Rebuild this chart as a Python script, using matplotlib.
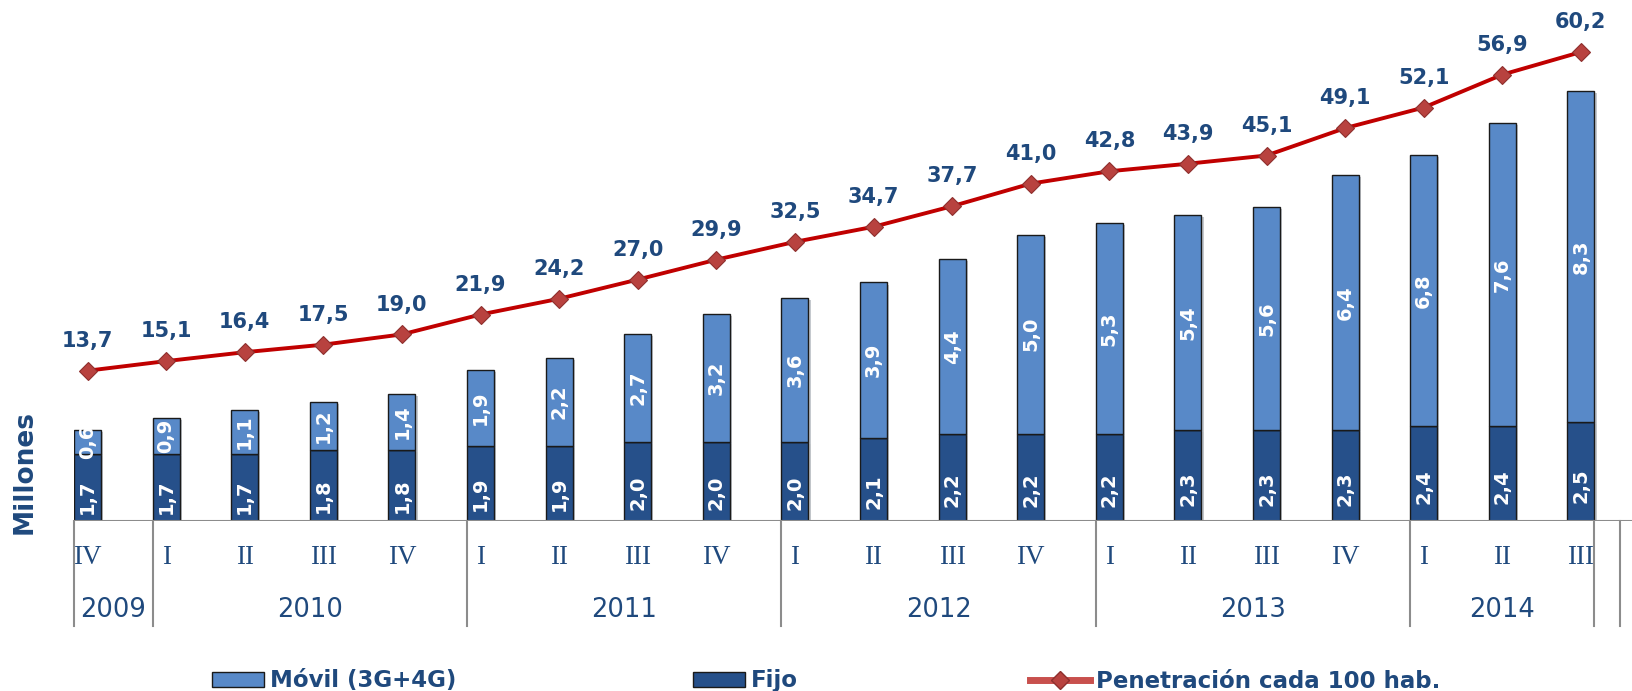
"""Banda ancha: accesos fijo / móvil (millones) y penetración cada 100 hab."""

import matplotlib

matplotlib.use("Agg")
import matplotlib.pyplot as plt
import matplotlib.patheffects as pe
from matplotlib.lines import Line2D
from matplotlib.patches import Patch

# datos
quarters = ["IV", "I", "II", "III", "IV", "I", "II", "III", "IV", "I",
            "II", "III", "IV", "I", "II", "III", "IV", "I", "II", "III"]
years = ["2009", "2010", "2011", "2012", "2013", "2014"]
year_sizes = [1, 4, 4, 4, 4, 3]
fijo = [1.7, 1.7, 1.7, 1.8, 1.8, 1.9, 1.9, 2.0, 2.0, 2.0,
        2.1, 2.2, 2.2, 2.2, 2.3, 2.3, 2.3, 2.4, 2.4, 2.5]
movil = [0.6, 0.9, 1.1, 1.2, 1.4, 1.9, 2.2, 2.7, 3.2, 3.6,
         3.9, 4.4, 5.0, 5.3, 5.4, 5.6, 6.4, 6.8, 7.6, 8.3]
penetracion = [13.7, 15.1, 16.4, 17.5, 19.0, 21.9, 24.2, 27.0, 29.9, 32.5,
               34.7, 37.7, 41.0, 42.8, 43.9, 45.1, 49.1, 52.1, 56.9, 60.2]

C_MOVIL = "#5889C8"
C_FIJO = "#26508A"
C_LINE = "#C00000"
C_MARK = "#B8423F"
C_TEXT = "#1F497D"
C_GRID = "#8C8C8C"
BAR_W = 0.345

fig = plt.figure(figsize=(16.32, 6.91), dpi=100)
ax = fig.add_axes([74 / 1632, 0.2453, 1 - 74 / 1632, 0.7547])
ax2 = ax.twinx()

x = list(range(len(quarters)))
shadow = [pe.SimplePatchShadow(offset=(1.5, -1.5), alpha=0.25), pe.Normal()]
ax.bar(x, fijo, BAR_W, color=C_FIJO, edgecolor="#1a1a1a", lw=1.0,
       path_effects=shadow, zorder=2)
ax.bar(x, movil, BAR_W, bottom=fijo, color=C_MOVIL, edgecolor="#1a1a1a",
       lw=1.0, path_effects=shadow, zorder=2)

for i in x:
    ax.text(i, 0.36 * fijo[i], f"{fijo[i]:.1f}".replace(".", ","),
            rotation=90, ha="center", va="center", color="white",
            fontsize=14, fontweight="bold", zorder=4)
    ax.text(i, fijo[i] + movil[i] / 2, f"{movil[i]:.1f}".replace(".", ","),
            rotation=90, ha="center", va="center", color="white",
            fontsize=14, fontweight="bold", zorder=4)

ax.set_xlim(-0.172, 19.65)
ax.set_ylim(0, 13.09)
ax2.set_ylim(-8.30, 67.79)

ax2.plot(x, penetracion, color=C_LINE, lw=2.8, marker="D", markersize=9,
         markerfacecolor=C_MARK, markeredgecolor="#8E2F2D", markeredgewidth=0.8,
         zorder=5)
for i, v in zip(x, penetracion):
    ax2.annotate(f"{v:.1f}".replace(".", ","), (i, v), xytext=(0, 21.5),
                 textcoords="offset points", ha="center", va="center",
                 fontsize=15, fontweight="bold", color=C_TEXT)

for a in (ax, ax2):
    for s in a.spines.values():
        s.set_visible(False)
    a.set_yticks([])
    a.set_xticks([])
ax.axhline(0, color=C_GRID, lw=1.5, zorder=3)

# eje de categorías en dos niveles
trans = ax.get_xaxis_transform()
seps = [-0.172]
start = 0
for yr, n in zip(years, year_sizes):
    end = start + n
    left = seps[-1]
    right = end - 0.172 if end < len(x) else end - 1 + 0.172
    seps.append(right)
    ax.text((left + right) / 2, -0.17, yr, transform=trans, ha="center",
            va="center", fontsize=18.5, color=C_TEXT)
    start = end
seps.append(19.5)
for s in seps:
    ax.plot([s, s], [0, -0.2], transform=trans, color=C_GRID, lw=1.5,
            clip_on=False)
for i, q in zip(x, quarters):
    ax.text(i, -0.069, q, transform=trans, ha="center", va="center",
            fontsize=19.5, color=C_TEXT, family="Liberation Serif")

fig.text(25 / 1632, (691 - 472) / 691, "Millones", rotation=90, ha="center",
         va="center", fontsize=19, fontweight="bold", color=C_TEXT)

# leyenda
items = [
    (Patch(facecolor=C_MOVIL, edgecolor="#1a1a1a"), "Móvil (3G+4G)", 212, 2.27),
    (Patch(facecolor=C_FIJO, edgecolor="#1a1a1a"), "Fijo", 693, 2.27),
    (Line2D([], [], color="#C8504D", lw=5, marker="D", markersize=9,
            markerfacecolor=C_MARK, markeredgecolor="#8E2F2D"),
     "Penetración cada 100 hab.", 1030, 2.6),
]
for h, lab, px, hl in items:
    leg = fig.legend([h], [lab], loc="center left",
                     bbox_to_anchor=(px / 1632, 10 / 691), frameon=False,
                     borderpad=0, borderaxespad=0, handlelength=hl,
                     handletextpad=0.26, handleheight=0.62,
                     prop={"size": 16.5, "weight": "bold"})
    for t in leg.get_texts():
        t.set_color(C_TEXT)

fig.savefig("out.png", dpi=100)
